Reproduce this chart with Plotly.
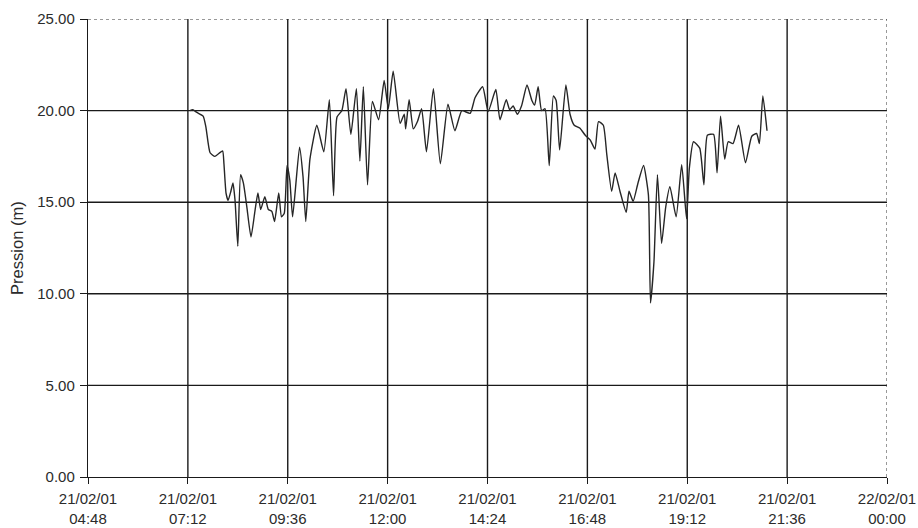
import plotly.graph_objects as go

# Pressure readings, 21 Feb 2001 (time, metres of water)
times = [
    "07:15", "07:19", "07:25", "07:34", "07:38", "07:44", "07:51", "08:02", "08:04", "08:07",
    "08:10", "08:14", "08:17", "08:20", "08:24", "08:28", "08:32", "08:37", "08:43", "08:49",
    "08:53", "08:57", "09:03", "09:08", "09:13", "09:17", "09:23", "09:27", "09:31", "09:35",
    "09:39", "09:43", "09:53", "09:58", "10:02", "10:08", "10:18", "10:28", "10:36", "10:42",
    "10:47", "10:54", "11:00", "11:07", "11:15", "11:20", "11:25", "11:31", "11:38", "11:47",
    "11:55", "12:01", "12:08", "12:18", "12:24", "12:26", "12:31", "12:37", "12:43", "12:49",
    "12:56", "13:06", "13:16", "13:27", "13:37", "13:47", "13:59", "14:06", "14:17", "14:25",
    "14:36", "14:42", "14:51", "14:56", "15:01", "15:07", "15:13", "15:21", "15:28", "15:32",
    "15:37", "15:42", "15:47", "15:53", "15:59", "16:03", "16:08", "16:17", "16:23", "16:29",
    "16:37", "16:45", "16:52", "16:59", "17:04", "17:11", "17:16", "17:23", "17:28", "17:35",
    "17:44", "17:48", "17:54", "18:01", "18:09", "18:16", "18:19", "18:24", "18:29", "18:35",
    "18:41", "18:47", "18:56", "19:04", "19:11", "19:15", "19:21", "19:30", "19:36", "19:41",
    "19:50", "19:55", "20:00", "20:06", "20:11", "20:18", "20:26", "20:36", "20:45", "20:52",
    "20:56", "21:01", "21:07",
]
pression = [
    20.0, 20.05, 19.9, 19.7, 19.1, 17.7, 17.5, 17.8, 17.1, 15.5,
    15.1, 15.6, 16.05, 15.1, 12.6, 16.5, 16.05, 14.75, 13.1, 14.6,
    15.5, 14.6, 15.3, 14.6, 14.5, 13.95, 15.5, 14.2, 14.4, 17.0,
    16.2, 14.2, 18.0, 16.4, 13.95, 17.35, 19.2, 17.75, 20.6, 15.35,
    19.65, 20.0, 21.2, 18.7, 21.2, 17.25, 21.3, 15.95, 20.5, 19.5,
    21.65, 20.1, 22.15, 19.3, 19.8, 19.0, 20.6, 19.0, 19.4, 20.1,
    17.75, 21.2, 17.1, 20.35, 18.9, 20.0, 19.85, 20.7, 21.3, 19.95,
    21.15, 19.5, 20.6, 20.05, 20.25, 19.8, 20.25, 21.4, 20.55, 20.3,
    21.3, 20.0, 20.1, 17.0, 20.8, 20.55, 17.85, 21.4, 19.8, 19.2,
    19.05, 18.65, 18.4, 17.9, 19.4, 19.2, 17.6, 15.6, 16.6, 15.6,
    14.45, 15.6, 15.05, 16.05, 17.0, 15.4, 9.5, 11.75, 16.5, 12.75,
    14.75, 15.85, 14.2, 17.05, 14.1, 16.85, 18.3, 17.95, 15.95, 18.65,
    18.7, 16.6, 19.7, 17.35, 18.3, 18.2, 19.2, 17.15, 18.6, 18.75,
    18.2, 20.8, 18.9,
]

# Axis ticks
x_tickvals = [
    "2001-02-21 04:48", "2001-02-21 07:12", "2001-02-21 09:36", "2001-02-21 12:00",
    "2001-02-21 14:24", "2001-02-21 16:48", "2001-02-21 19:12", "2001-02-21 21:36",
    "2001-02-22 00:00",
]
x_ticktext = [
    "21/02/01<br>04:48", "21/02/01<br>07:12", "21/02/01<br>09:36", "21/02/01<br>12:00",
    "21/02/01<br>14:24", "21/02/01<br>16:48", "21/02/01<br>19:12", "21/02/01<br>21:36",
    "22/02/01<br>00:00",
]
y_tickvals = [0, 5, 10, 15, 20, 25]
y_ticktext = ["0.00", "5.00", "10.00", "15.00", "20.00", "25.00"]

x_dates = ["2001-02-21 " + t for t in times]

FONT = "Liberation Sans, Arial, sans-serif"
GRID = "#1a1a1a"
TEXT = "#2b2b2b"

fig = go.Figure()
fig.add_trace(go.Scatter(
    x=x_dates, y=pression, mode="lines",
    line=dict(color="#262626", width=1.4, shape="spline", smoothing=0.5),
    hoverinfo="x+y", showlegend=False,
))

x0, x1 = x_tickvals[0], x_tickvals[-1]
y0, y1 = y_tickvals[0], y_tickvals[-1]

shapes = []
# interior grid lines (solid)
for xv in x_tickvals[1:-1]:
    shapes.append(dict(type="line", xref="x", yref="y", x0=xv, x1=xv, y0=y0, y1=y1,
                       line=dict(color=GRID, width=1.4), layer="below"))
for yv in y_tickvals[1:-1]:
    shapes.append(dict(type="line", xref="x", yref="y", x0=x0, x1=x1, y0=yv, y1=yv,
                       line=dict(color=GRID, width=1.4), layer="below"))
# dotted frame on top and right
shapes.append(dict(type="line", xref="x", yref="y", x0=x0, x1=x1, y0=y1, y1=y1,
                   line=dict(color="#333333", width=1, dash="dot")))
shapes.append(dict(type="line", xref="x", yref="y", x0=x1, x1=x1, y0=y0, y1=y1,
                   line=dict(color="#333333", width=1, dash="dot")))

fig.update_layout(
    width=918, height=528,
    margin=dict(l=88, r=31, t=19, b=51),
    paper_bgcolor="white", plot_bgcolor="white",
    font=dict(family=FONT, size=15, color=TEXT),
    shapes=shapes,
    xaxis=dict(
        type="date", range=[x0, x1], automargin=False,
        tickmode="array", tickvals=x_tickvals, ticktext=x_ticktext,
        showgrid=False, zeroline=False,
        showline=True, linecolor=GRID, linewidth=1.4,
        ticks="outside", ticklen=6, tickwidth=1.4, tickcolor=GRID,
        tickfont=dict(family=FONT, size=15, color=TEXT),
        ticklabelstandoff=2,
    ),
    yaxis=dict(
        range=[y0, y1], automargin=False,
        tickmode="array", tickvals=y_tickvals, ticktext=y_ticktext,
        showgrid=False, zeroline=False,
        showline=True, linecolor=GRID, linewidth=1.4,
        ticks="outside", ticklen=7, tickwidth=1.4, tickcolor=GRID,
        tickfont=dict(family=FONT, size=15, color=TEXT),
        ticklabelstandoff=2,
    ),
    annotations=[dict(
        text="Pression (m)", textangle=-90,
        xref="paper", yref="paper", x=-0.089, y=0.5,
        xanchor="center", yanchor="middle", showarrow=False,
        font=dict(family=FONT, size=16.5, color=TEXT),
    )],
)

fig.write_html("out.html")
